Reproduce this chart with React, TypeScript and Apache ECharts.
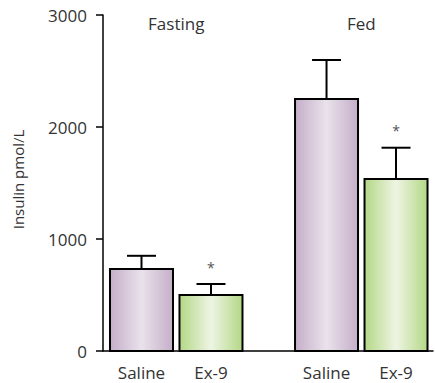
import React, { useEffect, useRef } from "react";
import * as echarts from "echarts";

const groups = ["Fasting", "Fed"];
const treatments = ["Saline", "Ex-9"];
const meanValues = [
  [732, 500],
  [2250, 1536],
];
const errorTops = [
  [850, 598],
  [2598, 1815],
];
const significant = [
  [false, true],
  [false, true],
];
const yTicks = [0, 1000, 2000, 3000];

const FONT = "'Open Sans', 'Noto Sans', sans-serif";
const BAR_W = 1;
const IN_STEP = 1.103;
const GROUP_STEP = 2.937;
const FIRST = 0.611;
const X_MAX = 5.238;

const gradients = [
  new echarts.graphic.LinearGradient(0, 0, 1, 0, [
    { offset: 0, color: "#c5aec9" },
    { offset: 0.5, color: "#e9e2eb" },
    { offset: 1, color: "#c5aec9" },
  ]),
  new echarts.graphic.LinearGradient(0, 0, 1, 0, [
    { offset: 0, color: "#b3d886" },
    { offset: 0.5, color: "#eef4e3" },
    { offset: 1, color: "#b3d886" },
  ]),
];

export default function App() {
  const ref = useRef<HTMLDivElement>(null);
  useEffect(() => {
    const chart = echarts.init(ref.current!, null, { renderer: "svg" });
    const barData: any[] = [];
    groups.forEach((g, gi) => {
      treatments.forEach((t, ti) => {
        barData.push([
          FIRST + gi * GROUP_STEP + ti * IN_STEP,
          meanValues[gi][ti],
          errorTops[gi][ti],
          ti,
          significant[gi][ti] ? 1 : 0,
        ]);
      });
    });
    const groupData = groups.map((g, gi) => [
      FIRST + gi * GROUP_STEP + IN_STEP / 2,
      yTicks[yTicks.length - 1],
    ]);
    chart.setOption({
      animation: false,
      grid: { left: 103, right: 2, top: 15, bottom: 32 },
      xAxis: {
        type: "value",
        min: 0,
        max: X_MAX,
        axisLine: { show: true, onZero: false, lineStyle: { color: "#000", width: 1.5 } },
        axisTick: { show: false },
        axisLabel: { show: false },
        splitLine: { show: false },
      },
      yAxis: {
        type: "value",
        min: yTicks[0],
        max: yTicks[yTicks.length - 1],
        interval: 1000,
        name: "Insulin pmol/L",
        nameLocation: "middle",
        nameGap: 78,
        nameTextStyle: { fontFamily: FONT, fontSize: 15, color: "#333", padding: [0, 0, 0, 7] },
        axisLine: { show: true, lineStyle: { color: "#000", width: 1.5 } },
        axisTick: { show: true, length: 7, lineStyle: { color: "#000", width: 1.5 } },
        axisLabel: {
          margin: 16,
          fontFamily: FONT,
          fontSize: 17,
          color: "#333",
          formatter: (v: number) => String(v),
        },
        splitLine: { show: false },
      },
      series: [
        {
          type: "custom",
          data: barData,
          renderItem: (params: any, api: any) => {
            const x = api.value(0);
            const v = api.value(1);
            const e = api.value(2);
            const ti = api.value(3);
            const sig = api.value(4);
            const base = api.coord([x, 0]);
            const top = api.coord([x, v]);
            const errTop = api.coord([x, e]);
            const w = api.size([BAR_W, 0])[0];
            const capW = w * 0.46;
            const children: any[] = [
              {
                type: "line",
                shape: { x1: top[0], y1: top[1], x2: errTop[0], y2: errTop[1] },
                style: { stroke: "#000", lineWidth: 2 },
              },
              {
                type: "line",
                shape: { x1: top[0] - capW / 2, y1: errTop[1], x2: top[0] + capW / 2, y2: errTop[1] },
                style: { stroke: "#000", lineWidth: 2 },
              },
              {
                type: "rect",
                shape: { x: top[0] - w / 2, y: top[1], width: w, height: base[1] - top[1] },
                style: { fill: gradients[ti], stroke: "#000", lineWidth: 2 },
              },
              {
                type: "text",
                x: top[0],
                y: base[1] + 21,
                style: {
                  text: treatments[ti],
                  fontFamily: FONT,
                  fontSize: 17,
                  fill: "#333",
                  align: "center",
                  verticalAlign: "middle",
                },
              },
            ];
            if (sig) {
              children.push({
                type: "text",
                x: top[0],
                y: errTop[1] - 17,
                style: {
                  text: "*",
                  fontFamily: FONT,
                  fontSize: 14,
                  fill: "#555",
                  align: "center",
                  verticalAlign: "middle",
                },
              });
            }
            return { type: "group", children };
          },
        },
        {
          type: "custom",
          data: groupData,
          renderItem: (params: any, api: any) => {
            const p = api.coord([api.value(0), api.value(1)]);
            return {
              type: "text",
              x: p[0],
              y: p[1] + 8,
              style: {
                text: groups[params.dataIndex],
                fontFamily: FONT,
                fontSize: 17,
                fill: "#333",
                align: "center",
                verticalAlign: "middle",
              },
            };
          },
        },
      ],
    });
    return () => chart.dispose();
  }, []);
  return <div ref={ref} style={{ width: 435, height: 383, position: "absolute", left: 0, top: 0 }} />;
}
